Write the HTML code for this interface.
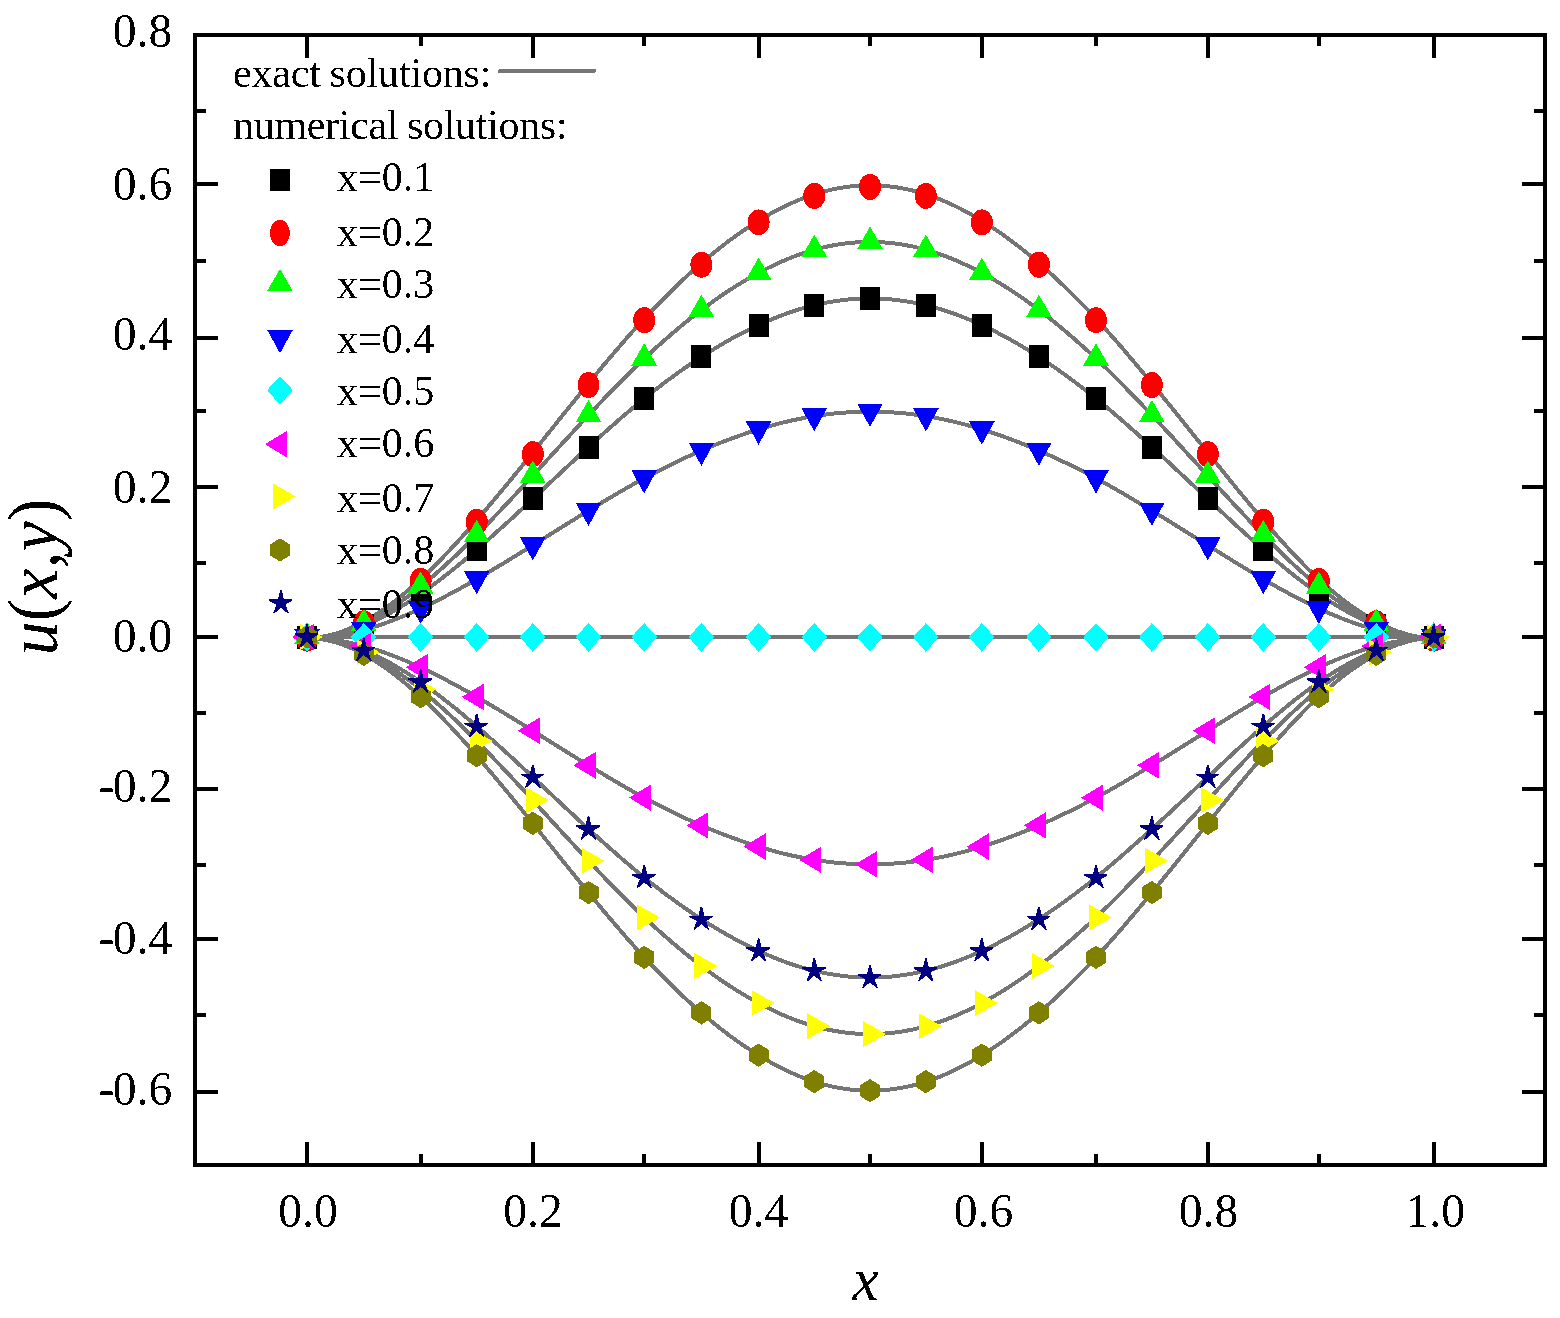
<!DOCTYPE html>
<html lang="en"><head><meta charset="utf-8"><title>u(x,y) exact vs numerical solutions</title>
<style>
html,body{margin:0;padding:0;background:#fff;}
body{width:1560px;height:1318px;overflow:hidden;}
svg{display:block;}
text{font-family:"Liberation Serif",serif;fill:#000;}
.tk{font-size:47.6px;}
.lg{font-size:42px;}
.ll{letter-spacing:-0.3px;word-spacing:-1.5px;}
.it{font-style:italic;}
</style></head><body>
<svg width="1560" height="1318" viewBox="0 0 1560 1318">
<defs><filter id="th" x="-5%" y="-5%" width="110%" height="110%" color-interpolation-filters="sRGB"><feComponentTransfer><feFuncA type="discrete" tableValues="0 0 1 1"/></feComponentTransfer></filter></defs>
<rect x="0" y="0" width="1560" height="1318" fill="#ffffff"/>
<g fill="none" stroke="#757575" stroke-width="4" stroke-linejoin="round" stroke-linecap="round" shape-rendering="crispEdges">
<polyline points="307.0,637.0 314.1,637.8 321.2,637.2 328.3,636.2 335.4,634.8 342.5,633.0 349.6,630.9 356.7,628.5 363.8,625.7 370.9,622.7 378.0,619.3 385.1,615.7 392.2,611.9 399.3,607.7 406.4,603.4 413.5,598.8 420.6,594.0 427.6,589.0 434.6,583.8 441.6,578.5 448.6,573.0 455.7,567.4 462.7,561.6 469.7,555.7 476.7,549.7 483.7,543.6 490.7,537.4 497.7,531.1 504.8,524.8 511.8,518.4 518.8,511.9 525.8,505.4 532.8,498.9 539.8,492.4 546.7,485.9 553.7,479.3 560.6,472.8 567.6,466.3 574.6,459.8 581.5,453.4 588.5,447.0 595.5,440.7 602.4,434.4 609.4,428.2 616.4,422.1 623.3,416.0 630.3,410.1 637.2,404.2 644.2,398.4 651.4,392.8 658.5,387.3 665.7,381.8 672.8,376.6 680.0,371.4 687.1,366.4 694.2,361.6 701.4,356.8 708.6,352.3 715.7,347.9 722.9,343.7 730.0,339.6 737.2,335.7 744.3,332.0 751.5,328.4 758.6,325.1 765.6,321.9 772.5,319.0 779.5,316.2 786.5,313.6 793.4,311.2 800.4,309.0 807.3,307.0 814.3,305.2 821.3,303.7 828.2,302.3 835.2,301.1 842.1,300.2 849.1,299.4 856.1,298.9 863.0,298.6 870.0,298.5 877.0,298.6 884.0,298.9 891.0,299.4 898.0,300.2 904.9,301.1 911.9,302.3 918.9,303.7 925.9,305.2 932.9,307.0 939.9,309.0 946.9,311.2 953.8,313.6 960.8,316.2 967.8,319.0 974.8,321.9 981.8,325.1 988.9,328.4 996.1,332.0 1003.2,335.7 1010.3,339.6 1017.5,343.7 1024.6,347.9 1031.8,352.3 1038.9,356.8 1046.0,361.6 1053.2,366.4 1060.3,371.4 1067.5,376.6 1074.6,381.8 1081.7,387.3 1088.9,392.8 1096.0,398.4 1103.0,404.2 1110.0,410.1 1117.0,416.0 1124.0,422.1 1130.9,428.2 1137.9,434.4 1144.9,440.7 1151.9,447.0 1158.9,453.4 1165.9,459.8 1172.9,466.3 1179.8,472.8 1186.8,479.3 1193.8,485.9 1200.8,492.4 1207.8,498.9 1214.7,505.4 1221.7,511.9 1228.6,518.4 1235.5,524.8 1242.5,531.1 1249.4,537.4 1256.4,543.6 1263.3,549.7 1270.2,555.7 1277.2,561.6 1284.1,567.4 1291.0,573.0 1298.0,578.5 1304.9,583.8 1311.9,589.0 1318.8,594.0 1326.0,598.8 1333.2,603.4 1340.3,607.7 1347.5,611.9 1354.7,615.7 1361.9,619.3 1369.1,622.7 1376.2,625.7 1383.4,628.5 1390.6,630.9 1397.8,633.0 1405.0,634.8 1412.2,636.2 1419.3,637.2 1426.5,637.8 1433.7,637.0"/>
<polyline points="307.0,637.0 314.1,637.7 321.2,636.9 328.3,635.5 335.4,633.7 342.5,631.4 349.6,628.6 356.7,625.3 363.8,621.7 370.9,617.6 378.0,613.1 385.1,608.3 392.2,603.1 399.3,597.6 406.4,591.8 413.5,585.7 420.6,579.3 427.6,572.7 434.6,565.8 441.6,558.7 448.6,551.4 455.7,543.8 462.7,536.1 469.7,528.3 476.7,520.3 483.7,512.1 490.7,503.8 497.7,495.5 504.8,487.0 511.8,478.5 518.8,469.9 525.8,461.3 532.8,452.6 539.8,443.9 546.7,435.2 553.7,426.5 560.6,417.8 567.6,409.1 574.6,400.5 581.5,391.9 588.5,383.4 595.5,374.9 602.4,366.5 609.4,358.3 616.4,350.1 623.3,342.0 630.3,334.1 637.2,326.3 644.2,318.6 651.4,311.0 658.5,303.7 665.7,296.5 672.8,289.4 680.0,282.6 687.1,275.9 694.2,269.4 701.4,263.1 708.6,257.0 715.7,251.2 722.9,245.5 730.0,240.1 737.2,234.9 744.3,230.0 751.5,225.3 758.6,220.8 765.6,216.6 772.5,212.6 779.5,208.9 786.5,205.4 793.4,202.3 800.4,199.3 807.3,196.7 814.3,194.3 821.3,192.2 828.2,190.4 835.2,188.8 842.1,187.6 849.1,186.6 856.1,185.9 863.0,185.4 870.0,185.3 877.0,185.4 884.0,185.9 891.0,186.6 898.0,187.6 904.9,188.8 911.9,190.4 918.9,192.2 925.9,194.3 932.9,196.7 939.9,199.3 946.9,202.3 953.8,205.4 960.8,208.9 967.8,212.6 974.8,216.6 981.8,220.8 988.9,225.3 996.1,230.0 1003.2,234.9 1010.3,240.1 1017.5,245.5 1024.6,251.2 1031.8,257.0 1038.9,263.1 1046.0,269.4 1053.2,275.9 1060.3,282.6 1067.5,289.4 1074.6,296.5 1081.7,303.7 1088.9,311.0 1096.0,318.6 1103.0,326.3 1110.0,334.1 1117.0,342.0 1124.0,350.1 1130.9,358.3 1137.9,366.5 1144.9,374.9 1151.9,383.4 1158.9,391.9 1165.9,400.5 1172.9,409.1 1179.8,417.8 1186.8,426.5 1193.8,435.2 1200.8,443.9 1207.8,452.6 1214.7,461.3 1221.7,469.9 1228.6,478.5 1235.5,487.0 1242.5,495.5 1249.4,503.8 1256.4,512.1 1263.3,520.3 1270.2,528.3 1277.2,536.1 1284.1,543.8 1291.0,551.4 1298.0,558.7 1304.9,565.8 1311.9,572.7 1318.8,579.3 1326.0,585.7 1333.2,591.8 1340.3,597.6 1347.5,603.1 1354.7,608.3 1361.9,613.1 1369.1,617.6 1376.2,621.7 1383.4,625.3 1390.6,628.6 1397.8,631.4 1405.0,633.7 1412.2,635.5 1419.3,636.9 1426.5,637.7 1433.7,637.0"/>
<polyline points="307.0,637.0 314.1,637.8 321.2,637.0 328.3,635.9 335.4,634.2 342.5,632.2 349.6,629.7 356.7,626.9 363.8,623.7 370.9,620.1 378.0,616.2 385.1,612.0 392.2,607.5 399.3,602.7 406.4,597.6 413.5,592.3 420.6,586.7 427.6,580.8 434.6,574.8 441.6,568.6 448.6,562.2 455.7,555.6 462.7,548.9 469.7,542.0 476.7,535.0 483.7,527.8 490.7,520.6 497.7,513.3 504.8,505.9 511.8,498.4 518.8,490.9 525.8,483.3 532.8,475.8 539.8,468.1 546.7,460.5 553.7,452.9 560.6,445.3 567.6,437.7 574.6,430.2 581.5,422.6 588.5,415.2 595.5,407.8 602.4,400.5 609.4,393.2 616.4,386.1 623.3,379.0 630.3,372.1 637.2,365.2 644.2,358.5 651.4,351.9 658.5,345.5 665.7,339.2 672.8,333.0 680.0,327.0 687.1,321.1 694.2,315.5 701.4,310.0 708.6,304.7 715.7,299.5 722.9,294.6 730.0,289.9 737.2,285.3 744.3,281.0 751.5,276.9 758.6,272.9 765.6,269.2 772.5,265.8 779.5,262.5 786.5,259.5 793.4,256.7 800.4,254.2 807.3,251.9 814.3,249.8 821.3,247.9 828.2,246.3 835.2,245.0 842.1,243.9 849.1,243.0 856.1,242.4 863.0,242.0 870.0,241.9 877.0,242.0 884.0,242.4 891.0,243.0 898.0,243.9 904.9,245.0 911.9,246.3 918.9,247.9 925.9,249.8 932.9,251.9 939.9,254.2 946.9,256.7 953.8,259.5 960.8,262.5 967.8,265.8 974.8,269.2 981.8,272.9 988.9,276.9 996.1,281.0 1003.2,285.3 1010.3,289.9 1017.5,294.6 1024.6,299.5 1031.8,304.7 1038.9,310.0 1046.0,315.5 1053.2,321.1 1060.3,327.0 1067.5,333.0 1074.6,339.2 1081.7,345.5 1088.9,351.9 1096.0,358.5 1103.0,365.2 1110.0,372.1 1117.0,379.0 1124.0,386.1 1130.9,393.2 1137.9,400.5 1144.9,407.8 1151.9,415.2 1158.9,422.6 1165.9,430.2 1172.9,437.7 1179.8,445.3 1186.8,452.9 1193.8,460.5 1200.8,468.1 1207.8,475.8 1214.7,483.3 1221.7,490.9 1228.6,498.4 1235.5,505.9 1242.5,513.3 1249.4,520.6 1256.4,527.8 1263.3,535.0 1270.2,542.0 1277.2,548.9 1284.1,555.6 1291.0,562.2 1298.0,568.6 1304.9,574.8 1311.9,580.8 1318.8,586.7 1326.0,592.3 1333.2,597.6 1340.3,602.7 1347.5,607.5 1354.7,612.0 1361.9,616.2 1369.1,620.1 1376.2,623.7 1383.4,626.9 1390.6,629.7 1397.8,632.2 1405.0,634.2 1412.2,635.9 1419.3,637.0 1426.5,637.8 1433.7,637.0"/>
<polyline points="307.0,637.0 314.1,637.9 321.2,637.4 328.3,636.8 335.4,635.8 342.5,634.7 349.6,633.3 356.7,631.7 363.8,629.8 370.9,627.8 378.0,625.6 385.1,623.2 392.2,620.6 399.3,617.8 406.4,614.9 413.5,611.9 420.6,608.7 427.6,605.3 434.6,601.9 441.6,598.3 448.6,594.7 455.7,590.9 462.7,587.1 469.7,583.1 476.7,579.1 483.7,575.1 490.7,570.9 497.7,566.7 504.8,562.5 511.8,558.2 518.8,553.9 525.8,549.6 532.8,545.3 539.8,540.9 546.7,536.6 553.7,532.2 560.6,527.9 567.6,523.5 574.6,519.2 581.5,514.9 588.5,510.7 595.5,506.5 602.4,502.3 609.4,498.1 616.4,494.0 623.3,490.0 630.3,486.0 637.2,482.1 644.2,478.3 651.4,474.5 658.5,470.8 665.7,467.2 672.8,463.7 680.0,460.3 687.1,456.9 694.2,453.7 701.4,450.6 708.6,447.5 715.7,444.6 722.9,441.8 730.0,439.1 737.2,436.5 744.3,434.0 751.5,431.6 758.6,429.4 765.6,427.3 772.5,425.3 779.5,423.4 786.5,421.7 793.4,420.1 800.4,418.7 807.3,417.3 814.3,416.2 821.3,415.1 828.2,414.2 835.2,413.4 842.1,412.8 849.1,412.3 856.1,411.9 863.0,411.7 870.0,411.7 877.0,411.7 884.0,411.9 891.0,412.3 898.0,412.8 904.9,413.4 911.9,414.2 918.9,415.1 925.9,416.2 932.9,417.3 939.9,418.7 946.9,420.1 953.8,421.7 960.8,423.4 967.8,425.3 974.8,427.3 981.8,429.4 988.9,431.6 996.1,434.0 1003.2,436.5 1010.3,439.1 1017.5,441.8 1024.6,444.6 1031.8,447.5 1038.9,450.6 1046.0,453.7 1053.2,456.9 1060.3,460.3 1067.5,463.7 1074.6,467.2 1081.7,470.8 1088.9,474.5 1096.0,478.3 1103.0,482.1 1110.0,486.0 1117.0,490.0 1124.0,494.0 1130.9,498.1 1137.9,502.3 1144.9,506.5 1151.9,510.7 1158.9,514.9 1165.9,519.2 1172.9,523.5 1179.8,527.9 1186.8,532.2 1193.8,536.6 1200.8,540.9 1207.8,545.3 1214.7,549.6 1221.7,553.9 1228.6,558.2 1235.5,562.5 1242.5,566.7 1249.4,570.9 1256.4,575.1 1263.3,579.1 1270.2,583.1 1277.2,587.1 1284.1,590.9 1291.0,594.7 1298.0,598.3 1304.9,601.9 1311.9,605.3 1318.8,608.7 1326.0,611.9 1333.2,614.9 1340.3,617.8 1347.5,620.6 1354.7,623.2 1361.9,625.6 1369.1,627.8 1376.2,629.8 1383.4,631.7 1390.6,633.3 1397.8,634.7 1405.0,635.8 1412.2,636.8 1419.3,637.4 1426.5,637.9 1433.7,637.0"/>
<polyline points="307.0,637.0 314.1,637.0 321.2,637.0 328.3,637.0 335.4,637.0 342.5,637.0 349.6,637.0 356.7,637.0 363.8,637.0 370.9,637.0 378.0,637.0 385.1,637.0 392.2,637.0 399.3,637.0 406.4,637.0 413.5,637.0 420.6,637.0 427.6,637.0 434.6,637.0 441.6,637.0 448.6,637.0 455.7,637.0 462.7,637.0 469.7,637.0 476.7,637.0 483.7,637.0 490.7,637.0 497.7,637.0 504.8,637.0 511.8,637.0 518.8,637.0 525.8,637.0 532.8,637.0 539.8,637.0 546.7,637.0 553.7,637.0 560.6,637.0 567.6,637.0 574.6,637.0 581.5,637.0 588.5,637.0 595.5,637.0 602.4,637.0 609.4,637.0 616.4,637.0 623.3,637.0 630.3,637.0 637.2,637.0 644.2,637.0 651.4,637.0 658.5,637.0 665.7,637.0 672.8,637.0 680.0,637.0 687.1,637.0 694.2,637.0 701.4,637.0 708.6,637.0 715.7,637.0 722.9,637.0 730.0,637.0 737.2,637.0 744.3,637.0 751.5,637.0 758.6,637.0 765.6,637.0 772.5,637.0 779.5,637.0 786.5,637.0 793.4,637.0 800.4,637.0 807.3,637.0 814.3,637.0 821.3,637.0 828.2,637.0 835.2,637.0 842.1,637.0 849.1,637.0 856.1,637.0 863.0,637.0 870.0,637.0 877.0,637.0 884.0,637.0 891.0,637.0 898.0,637.0 904.9,637.0 911.9,637.0 918.9,637.0 925.9,637.0 932.9,637.0 939.9,637.0 946.9,637.0 953.8,637.0 960.8,637.0 967.8,637.0 974.8,637.0 981.8,637.0 988.9,637.0 996.1,637.0 1003.2,637.0 1010.3,637.0 1017.5,637.0 1024.6,637.0 1031.8,637.0 1038.9,637.0 1046.0,637.0 1053.2,637.0 1060.3,637.0 1067.5,637.0 1074.6,637.0 1081.7,637.0 1088.9,637.0 1096.0,637.0 1103.0,637.0 1110.0,637.0 1117.0,637.0 1124.0,637.0 1130.9,637.0 1137.9,637.0 1144.9,637.0 1151.9,637.0 1158.9,637.0 1165.9,637.0 1172.9,637.0 1179.8,637.0 1186.8,637.0 1193.8,637.0 1200.8,637.0 1207.8,637.0 1214.7,637.0 1221.7,637.0 1228.6,637.0 1235.5,637.0 1242.5,637.0 1249.4,637.0 1256.4,637.0 1263.3,637.0 1270.2,637.0 1277.2,637.0 1284.1,637.0 1291.0,637.0 1298.0,637.0 1304.9,637.0 1311.9,637.0 1318.8,637.0 1326.0,637.0 1333.2,637.0 1340.3,637.0 1347.5,637.0 1354.7,637.0 1361.9,637.0 1369.1,637.0 1376.2,637.0 1383.4,637.0 1390.6,637.0 1397.8,637.0 1405.0,637.0 1412.2,637.0 1419.3,637.0 1426.5,637.0 1433.7,637.0"/>
<polyline points="307.0,637.0 314.1,638.1 321.2,638.6 328.3,639.2 335.4,640.2 342.5,641.3 349.6,642.7 356.7,644.3 363.8,646.2 370.9,648.2 378.0,650.4 385.1,652.8 392.2,655.4 399.3,658.2 406.4,661.1 413.5,664.1 420.6,667.3 427.6,670.7 434.6,674.1 441.6,677.7 448.6,681.3 455.7,685.1 462.7,688.9 469.7,692.9 476.7,696.9 483.7,700.9 490.7,705.1 497.7,709.3 504.8,713.5 511.8,717.8 518.8,722.1 525.8,726.4 532.8,730.7 539.8,735.1 546.7,739.4 553.7,743.8 560.6,748.1 567.6,752.5 574.6,756.8 581.5,761.1 588.5,765.3 595.5,769.5 602.4,773.7 609.4,777.9 616.4,782.0 623.3,786.0 630.3,790.0 637.2,793.9 644.2,797.7 651.4,801.5 658.5,805.2 665.7,808.8 672.8,812.3 680.0,815.7 687.1,819.1 694.2,822.3 701.4,825.4 708.6,828.5 715.7,831.4 722.9,834.2 730.0,836.9 737.2,839.5 744.3,842.0 751.5,844.4 758.6,846.6 765.6,848.7 772.5,850.7 779.5,852.6 786.5,854.3 793.4,855.9 800.4,857.3 807.3,858.7 814.3,859.8 821.3,860.9 828.2,861.8 835.2,862.6 842.1,863.2 849.1,863.7 856.1,864.1 863.0,864.3 870.0,864.4 877.0,864.3 884.0,864.1 891.0,863.7 898.0,863.2 904.9,862.6 911.9,861.8 918.9,860.9 925.9,859.8 932.9,858.7 939.9,857.3 946.9,855.9 953.8,854.3 960.8,852.6 967.8,850.7 974.8,848.7 981.8,846.6 988.9,844.4 996.1,842.0 1003.2,839.5 1010.3,836.9 1017.5,834.2 1024.6,831.4 1031.8,828.5 1038.9,825.4 1046.0,822.3 1053.2,819.1 1060.3,815.7 1067.5,812.3 1074.6,808.8 1081.7,805.2 1088.9,801.5 1096.0,797.7 1103.0,793.9 1110.0,790.0 1117.0,786.0 1124.0,782.0 1130.9,777.9 1137.9,773.7 1144.9,769.5 1151.9,765.3 1158.9,761.1 1165.9,756.8 1172.9,752.5 1179.8,748.1 1186.8,743.8 1193.8,739.4 1200.8,735.1 1207.8,730.7 1214.7,726.4 1221.7,722.1 1228.6,717.8 1235.5,713.5 1242.5,709.3 1249.4,705.1 1256.4,700.9 1263.3,696.9 1270.2,692.9 1277.2,688.9 1284.1,685.1 1291.0,681.3 1298.0,677.7 1304.9,674.1 1311.9,670.7 1318.8,667.3 1326.0,664.1 1333.2,661.1 1340.3,658.2 1347.5,655.4 1354.7,652.8 1361.9,650.4 1369.1,648.2 1376.2,646.2 1383.4,644.3 1390.6,642.7 1397.8,641.3 1405.0,640.2 1412.2,639.2 1419.3,638.6 1426.5,638.1 1433.7,637.0"/>
<polyline points="307.0,637.0 314.1,638.2 321.2,639.0 328.3,640.1 335.4,641.8 342.5,643.8 349.6,646.3 356.7,649.1 363.8,652.3 370.9,655.9 378.0,659.8 385.1,664.0 392.2,668.5 399.3,673.3 406.4,678.4 413.5,683.7 420.6,689.3 427.6,695.2 434.6,701.2 441.6,707.4 448.6,713.8 455.7,720.4 462.7,727.1 469.7,734.0 476.7,741.0 483.7,748.2 490.7,755.4 497.7,762.7 504.8,770.1 511.8,777.6 518.8,785.1 525.8,792.7 532.8,800.2 539.8,807.9 546.7,815.5 553.7,823.1 560.6,830.7 567.6,838.3 574.6,845.8 581.5,853.4 588.5,860.8 595.5,868.2 602.4,875.5 609.4,882.8 616.4,889.9 623.3,897.0 630.3,903.9 637.2,910.8 644.2,917.5 651.4,924.1 658.5,930.5 665.7,936.8 672.8,943.0 680.0,949.0 687.1,954.9 694.2,960.5 701.4,966.0 708.6,971.3 715.7,976.5 722.9,981.4 730.0,986.1 737.2,990.7 744.3,995.0 751.5,999.1 758.6,1003.1 765.6,1006.8 772.5,1010.2 779.5,1013.5 786.5,1016.5 793.4,1019.3 800.4,1021.8 807.3,1024.1 814.3,1026.2 821.3,1028.1 828.2,1029.7 835.2,1031.0 842.1,1032.1 849.1,1033.0 856.1,1033.6 863.0,1034.0 870.0,1034.1 877.0,1034.0 884.0,1033.6 891.0,1033.0 898.0,1032.1 904.9,1031.0 911.9,1029.7 918.9,1028.1 925.9,1026.2 932.9,1024.1 939.9,1021.8 946.9,1019.3 953.8,1016.5 960.8,1013.5 967.8,1010.2 974.8,1006.8 981.8,1003.1 988.9,999.1 996.1,995.0 1003.2,990.7 1010.3,986.1 1017.5,981.4 1024.6,976.5 1031.8,971.3 1038.9,966.0 1046.0,960.5 1053.2,954.9 1060.3,949.0 1067.5,943.0 1074.6,936.8 1081.7,930.5 1088.9,924.1 1096.0,917.5 1103.0,910.8 1110.0,903.9 1117.0,897.0 1124.0,889.9 1130.9,882.8 1137.9,875.5 1144.9,868.2 1151.9,860.8 1158.9,853.4 1165.9,845.8 1172.9,838.3 1179.8,830.7 1186.8,823.1 1193.8,815.5 1200.8,807.9 1207.8,800.2 1214.7,792.7 1221.7,785.1 1228.6,777.6 1235.5,770.1 1242.5,762.7 1249.4,755.4 1256.4,748.2 1263.3,741.0 1270.2,734.0 1277.2,727.1 1284.1,720.4 1291.0,713.8 1298.0,707.4 1304.9,701.2 1311.9,695.2 1318.8,689.3 1326.0,683.7 1333.2,678.4 1340.3,673.3 1347.5,668.5 1354.7,664.0 1361.9,659.8 1369.1,655.9 1376.2,652.3 1383.4,649.1 1390.6,646.3 1397.8,643.8 1405.0,641.8 1412.2,640.1 1419.3,639.0 1426.5,638.2 1433.7,637.0"/>
<polyline points="307.0,637.0 314.1,638.3 321.2,639.1 328.3,640.5 335.4,642.3 342.5,644.6 349.6,647.4 356.7,650.7 363.8,654.3 370.9,658.4 378.0,662.9 385.1,667.7 392.2,672.9 399.3,678.4 406.4,684.2 413.5,690.3 420.6,696.7 427.6,703.3 434.6,710.2 441.6,717.3 448.6,724.6 455.7,732.2 462.7,739.9 469.7,747.7 476.7,755.7 483.7,763.9 490.7,772.2 497.7,780.5 504.8,789.0 511.8,797.5 518.8,806.1 525.8,814.7 532.8,823.4 539.8,832.1 546.7,840.8 553.7,849.5 560.6,858.2 567.6,866.9 574.6,875.5 581.5,884.1 588.5,892.6 595.5,901.1 602.4,909.5 609.4,917.7 616.4,925.9 623.3,934.0 630.3,941.9 637.2,949.7 644.2,957.4 651.4,965.0 658.5,972.3 665.7,979.5 672.8,986.6 680.0,993.4 687.1,1000.1 694.2,1006.6 701.4,1012.9 708.6,1019.0 715.7,1024.8 722.9,1030.5 730.0,1035.9 737.2,1041.1 744.3,1046.0 751.5,1050.7 758.6,1055.2 765.6,1059.4 772.5,1063.4 779.5,1067.1 786.5,1070.6 793.4,1073.7 800.4,1076.7 807.3,1079.3 814.3,1081.7 821.3,1083.8 828.2,1085.6 835.2,1087.2 842.1,1088.4 849.1,1089.4 856.1,1090.1 863.0,1090.6 870.0,1090.7 877.0,1090.6 884.0,1090.1 891.0,1089.4 898.0,1088.4 904.9,1087.2 911.9,1085.6 918.9,1083.8 925.9,1081.7 932.9,1079.3 939.9,1076.7 946.9,1073.7 953.8,1070.6 960.8,1067.1 967.8,1063.4 974.8,1059.4 981.8,1055.2 988.9,1050.7 996.1,1046.0 1003.2,1041.1 1010.3,1035.9 1017.5,1030.5 1024.6,1024.8 1031.8,1019.0 1038.9,1012.9 1046.0,1006.6 1053.2,1000.1 1060.3,993.4 1067.5,986.6 1074.6,979.5 1081.7,972.3 1088.9,965.0 1096.0,957.4 1103.0,949.7 1110.0,941.9 1117.0,934.0 1124.0,925.9 1130.9,917.7 1137.9,909.5 1144.9,901.1 1151.9,892.6 1158.9,884.1 1165.9,875.5 1172.9,866.9 1179.8,858.2 1186.8,849.5 1193.8,840.8 1200.8,832.1 1207.8,823.4 1214.7,814.7 1221.7,806.1 1228.6,797.5 1235.5,789.0 1242.5,780.5 1249.4,772.2 1256.4,763.9 1263.3,755.7 1270.2,747.7 1277.2,739.9 1284.1,732.2 1291.0,724.6 1298.0,717.3 1304.9,710.2 1311.9,703.3 1318.8,696.7 1326.0,690.3 1333.2,684.2 1340.3,678.4 1347.5,672.9 1354.7,667.7 1361.9,662.9 1369.1,658.4 1376.2,654.3 1383.4,650.7 1390.6,647.4 1397.8,644.6 1405.0,642.3 1412.2,640.5 1419.3,639.1 1426.5,638.3 1433.7,637.0"/>
<polyline points="307.0,637.0 314.1,638.2 321.2,638.8 328.3,639.8 335.4,641.2 342.5,643.0 349.6,645.1 356.7,647.5 363.8,650.3 370.9,653.3 378.0,656.7 385.1,660.3 392.2,664.1 399.3,668.3 406.4,672.6 413.5,677.2 420.6,682.0 427.6,687.0 434.6,692.2 441.6,697.5 448.6,703.0 455.7,708.6 462.7,714.4 469.7,720.3 476.7,726.3 483.7,732.4 490.7,738.6 497.7,744.9 504.8,751.2 511.8,757.6 518.8,764.1 525.8,770.6 532.8,777.1 539.8,783.6 546.7,790.1 553.7,796.7 560.6,803.2 567.6,809.7 574.6,816.2 581.5,822.6 588.5,829.0 595.5,835.3 602.4,841.6 609.4,847.8 616.4,853.9 623.3,860.0 630.3,865.9 637.2,871.8 644.2,877.6 651.4,883.2 658.5,888.7 665.7,894.2 672.8,899.4 680.0,904.6 687.1,909.6 694.2,914.4 701.4,919.2 708.6,923.7 715.7,928.1 722.9,932.3 730.0,936.4 737.2,940.3 744.3,944.0 751.5,947.6 758.6,950.9 765.6,954.1 772.5,957.0 779.5,959.8 786.5,962.4 793.4,964.8 800.4,967.0 807.3,969.0 814.3,970.8 821.3,972.3 828.2,973.7 835.2,974.9 842.1,975.8 849.1,976.6 856.1,977.1 863.0,977.4 870.0,977.5 877.0,977.4 884.0,977.1 891.0,976.6 898.0,975.8 904.9,974.9 911.9,973.7 918.9,972.3 925.9,970.8 932.9,969.0 939.9,967.0 946.9,964.8 953.8,962.4 960.8,959.8 967.8,957.0 974.8,954.1 981.8,950.9 988.9,947.6 996.1,944.0 1003.2,940.3 1010.3,936.4 1017.5,932.3 1024.6,928.1 1031.8,923.7 1038.9,919.2 1046.0,914.4 1053.2,909.6 1060.3,904.6 1067.5,899.4 1074.6,894.2 1081.7,888.7 1088.9,883.2 1096.0,877.6 1103.0,871.8 1110.0,865.9 1117.0,860.0 1124.0,853.9 1130.9,847.8 1137.9,841.6 1144.9,835.3 1151.9,829.0 1158.9,822.6 1165.9,816.2 1172.9,809.7 1179.8,803.2 1186.8,796.7 1193.8,790.1 1200.8,783.6 1207.8,777.1 1214.7,770.6 1221.7,764.1 1228.6,757.6 1235.5,751.2 1242.5,744.9 1249.4,738.6 1256.4,732.4 1263.3,726.3 1270.2,720.3 1277.2,714.4 1284.1,708.6 1291.0,703.0 1298.0,697.5 1304.9,692.2 1311.9,687.0 1318.8,682.0 1326.0,677.2 1333.2,672.6 1340.3,668.3 1347.5,664.1 1354.7,660.3 1361.9,656.7 1369.1,653.3 1376.2,650.3 1383.4,647.5 1390.6,645.1 1397.8,643.0 1405.0,641.2 1412.2,639.8 1419.3,638.8 1426.5,638.2 1433.7,637.0"/>
</g>
<g shape-rendering="crispEdges" stroke="none">
<g fill="#000000">
<rect x="297.0" y="625.5" width="20" height="23"/>
<rect x="353.8" y="614.2" width="20" height="23"/>
<rect x="410.6" y="582.5" width="20" height="23"/>
<rect x="466.7" y="538.2" width="20" height="23"/>
<rect x="522.8" y="487.4" width="20" height="23"/>
<rect x="578.5" y="435.5" width="20" height="23"/>
<rect x="634.2" y="386.9" width="20" height="23"/>
<rect x="691.4" y="345.3" width="20" height="23"/>
<rect x="748.6" y="313.6" width="20" height="23"/>
<rect x="804.3" y="293.7" width="20" height="23"/>
<rect x="860.0" y="287.0" width="20" height="23"/>
<rect x="915.9" y="293.7" width="20" height="23"/>
<rect x="971.8" y="313.6" width="20" height="23"/>
<rect x="1028.9" y="345.3" width="20" height="23"/>
<rect x="1086.0" y="386.9" width="20" height="23"/>
<rect x="1141.9" y="435.5" width="20" height="23"/>
<rect x="1197.8" y="487.4" width="20" height="23"/>
<rect x="1253.3" y="538.2" width="20" height="23"/>
<rect x="1308.8" y="582.5" width="20" height="23"/>
<rect x="1366.2" y="614.2" width="20" height="23"/>
<rect x="1423.7" y="625.5" width="20" height="23"/>
</g>
<g fill="#ff0000">
<ellipse cx="307.0" cy="638.6" rx="11" ry="13"/>
<ellipse cx="363.8" cy="623.3" rx="11" ry="13"/>
<ellipse cx="420.6" cy="580.9" rx="11" ry="13"/>
<ellipse cx="476.7" cy="521.9" rx="11" ry="13"/>
<ellipse cx="532.8" cy="454.2" rx="11" ry="13"/>
<ellipse cx="588.5" cy="385.0" rx="11" ry="13"/>
<ellipse cx="644.2" cy="320.2" rx="11" ry="13"/>
<ellipse cx="701.4" cy="264.7" rx="11" ry="13"/>
<ellipse cx="758.6" cy="222.4" rx="11" ry="13"/>
<ellipse cx="814.3" cy="195.9" rx="11" ry="13"/>
<ellipse cx="870.0" cy="186.9" rx="11" ry="13"/>
<ellipse cx="925.9" cy="195.9" rx="11" ry="13"/>
<ellipse cx="981.8" cy="222.4" rx="11" ry="13"/>
<ellipse cx="1038.9" cy="264.7" rx="11" ry="13"/>
<ellipse cx="1096.0" cy="320.2" rx="11" ry="13"/>
<ellipse cx="1151.9" cy="385.0" rx="11" ry="13"/>
<ellipse cx="1207.8" cy="454.2" rx="11" ry="13"/>
<ellipse cx="1263.3" cy="521.9" rx="11" ry="13"/>
<ellipse cx="1318.8" cy="580.9" rx="11" ry="13"/>
<ellipse cx="1376.2" cy="623.3" rx="11" ry="13"/>
<ellipse cx="1433.7" cy="638.6" rx="11" ry="13"/>
</g>
<g fill="#00ff00">
<polygon points="307.0,621.7 319.8,644.0 294.2,644.0"/>
<polygon points="363.8,608.4 376.6,630.7 351.0,630.7"/>
<polygon points="420.6,571.4 433.4,593.7 407.8,593.7"/>
<polygon points="476.7,519.7 489.5,542.0 463.9,542.0"/>
<polygon points="532.8,460.5 545.6,482.8 520.0,482.8"/>
<polygon points="588.5,399.9 601.3,422.2 575.7,422.2"/>
<polygon points="644.2,343.2 657.0,365.5 631.4,365.5"/>
<polygon points="701.4,294.7 714.2,317.0 688.6,317.0"/>
<polygon points="758.6,257.6 771.4,279.9 745.8,279.9"/>
<polygon points="814.3,234.5 827.1,256.8 801.5,256.8"/>
<polygon points="870.0,226.6 882.8,248.9 857.2,248.9"/>
<polygon points="925.9,234.5 938.7,256.8 913.1,256.8"/>
<polygon points="981.8,257.6 994.6,279.9 969.0,279.9"/>
<polygon points="1038.9,294.7 1051.7,317.0 1026.1,317.0"/>
<polygon points="1096.0,343.2 1108.8,365.5 1083.2,365.5"/>
<polygon points="1151.9,399.9 1164.7,422.2 1139.1,422.2"/>
<polygon points="1207.8,460.5 1220.6,482.8 1195.0,482.8"/>
<polygon points="1263.3,519.7 1276.1,542.0 1250.5,542.0"/>
<polygon points="1318.8,571.4 1331.6,593.7 1306.0,593.7"/>
<polygon points="1376.2,608.4 1389.0,630.7 1363.5,630.7"/>
<polygon points="1433.7,621.7 1446.5,644.0 1420.9,644.0"/>
</g>
<g fill="#0000ff">
<polygon points="294.2,629.0 319.8,629.0 307.0,652.3"/>
<polygon points="351.0,621.8 376.6,621.8 363.8,645.1"/>
<polygon points="407.8,600.7 433.4,600.7 420.6,624.0"/>
<polygon points="463.9,571.1 489.5,571.1 476.7,594.4"/>
<polygon points="520.0,537.3 545.6,537.3 532.8,560.6"/>
<polygon points="575.7,502.7 601.3,502.7 588.5,526.0"/>
<polygon points="631.4,470.3 657.0,470.3 644.2,493.6"/>
<polygon points="688.6,442.6 714.2,442.6 701.4,465.9"/>
<polygon points="745.8,421.4 771.4,421.4 758.6,444.7"/>
<polygon points="801.5,408.2 827.1,408.2 814.3,431.5"/>
<polygon points="857.2,403.7 882.8,403.7 870.0,427.0"/>
<polygon points="913.1,408.2 938.7,408.2 925.9,431.5"/>
<polygon points="969.0,421.4 994.6,421.4 981.8,444.7"/>
<polygon points="1026.1,442.6 1051.7,442.6 1038.9,465.9"/>
<polygon points="1083.2,470.3 1108.8,470.3 1096.0,493.6"/>
<polygon points="1139.1,502.7 1164.7,502.7 1151.9,526.0"/>
<polygon points="1195.0,537.3 1220.6,537.3 1207.8,560.6"/>
<polygon points="1250.5,571.1 1276.1,571.1 1263.3,594.4"/>
<polygon points="1306.0,600.7 1331.6,600.7 1318.8,624.0"/>
<polygon points="1363.5,621.8 1389.0,621.8 1376.2,645.1"/>
<polygon points="1420.9,629.0 1446.5,629.0 1433.7,652.3"/>
</g>
<g fill="#00ffff">
<polygon points="307.0,623.0 319.8,637.0 307.0,652.0 294.2,637.0"/>
<polygon points="363.8,623.0 376.6,637.0 363.8,652.0 351.0,637.0"/>
<polygon points="420.6,623.0 433.4,637.0 420.6,652.0 407.8,637.0"/>
<polygon points="476.7,623.0 489.5,637.0 476.7,652.0 463.9,637.0"/>
<polygon points="532.8,623.0 545.6,637.0 532.8,652.0 520.0,637.0"/>
<polygon points="588.5,623.0 601.3,637.0 588.5,652.0 575.7,637.0"/>
<polygon points="644.2,623.0 657.0,637.0 644.2,652.0 631.4,637.0"/>
<polygon points="701.4,623.0 714.2,637.0 701.4,652.0 688.6,637.0"/>
<polygon points="758.6,623.0 771.4,637.0 758.6,652.0 745.8,637.0"/>
<polygon points="814.3,623.0 827.1,637.0 814.3,652.0 801.5,637.0"/>
<polygon points="870.0,623.0 882.8,637.0 870.0,652.0 857.2,637.0"/>
<polygon points="925.9,623.0 938.7,637.0 925.9,652.0 913.1,637.0"/>
<polygon points="981.8,623.0 994.6,637.0 981.8,652.0 969.0,637.0"/>
<polygon points="1038.9,623.0 1051.7,637.0 1038.9,652.0 1026.1,637.0"/>
<polygon points="1096.0,623.0 1108.8,637.0 1096.0,652.0 1083.2,637.0"/>
<polygon points="1151.9,623.0 1164.7,637.0 1151.9,652.0 1139.1,637.0"/>
<polygon points="1207.8,623.0 1220.6,637.0 1207.8,652.0 1195.0,637.0"/>
<polygon points="1263.3,623.0 1276.1,637.0 1263.3,652.0 1250.5,637.0"/>
<polygon points="1318.8,623.0 1331.6,637.0 1318.8,652.0 1306.0,637.0"/>
<polygon points="1376.2,623.0 1389.0,637.0 1376.2,652.0 1363.5,637.0"/>
<polygon points="1433.7,623.0 1446.5,637.0 1433.7,652.0 1420.9,637.0"/>
</g>
<g fill="#ff00ff">
<polygon points="292.0,637.0 314.0,623.7 314.0,650.3"/>
<polygon points="348.8,646.2 370.8,632.9 370.8,659.5"/>
<polygon points="405.6,667.3 427.6,654.0 427.6,680.6"/>
<polygon points="461.7,696.9 483.7,683.6 483.7,710.2"/>
<polygon points="517.8,730.7 539.8,717.4 539.8,744.0"/>
<polygon points="573.5,765.3 595.5,752.0 595.5,778.6"/>
<polygon points="629.2,797.7 651.2,784.4 651.2,811.0"/>
<polygon points="686.4,825.4 708.4,812.1 708.4,838.7"/>
<polygon points="743.6,846.6 765.6,833.3 765.6,859.9"/>
<polygon points="799.3,859.8 821.3,846.5 821.3,873.1"/>
<polygon points="855.0,864.3 877.0,851.0 877.0,877.6"/>
<polygon points="910.9,859.8 932.9,846.5 932.9,873.1"/>
<polygon points="966.8,846.6 988.8,833.3 988.8,859.9"/>
<polygon points="1023.9,825.4 1045.9,812.1 1045.9,838.7"/>
<polygon points="1081.0,797.7 1103.0,784.4 1103.0,811.0"/>
<polygon points="1136.9,765.3 1158.9,752.0 1158.9,778.6"/>
<polygon points="1192.8,730.7 1214.8,717.4 1214.8,744.0"/>
<polygon points="1248.3,696.9 1270.3,683.6 1270.3,710.2"/>
<polygon points="1303.8,667.3 1325.8,654.0 1325.8,680.6"/>
<polygon points="1361.2,646.2 1383.2,632.9 1383.2,659.5"/>
<polygon points="1418.7,637.0 1440.7,623.7 1440.7,650.3"/>
</g>
<g fill="#ffff00">
<polygon points="323.0,637.0 300.0,624.0 300.0,650.0"/>
<polygon points="379.8,652.3 356.8,639.3 356.8,665.3"/>
<polygon points="436.6,689.3 413.6,676.3 413.6,702.3"/>
<polygon points="492.7,741.0 469.7,728.0 469.7,754.0"/>
<polygon points="548.8,800.2 525.8,787.2 525.8,813.2"/>
<polygon points="604.5,860.8 581.5,847.8 581.5,873.8"/>
<polygon points="660.2,917.5 637.2,904.5 637.2,930.5"/>
<polygon points="717.4,966.0 694.4,953.0 694.4,979.0"/>
<polygon points="774.6,1003.1 751.6,990.1 751.6,1016.1"/>
<polygon points="830.3,1026.2 807.3,1013.2 807.3,1039.2"/>
<polygon points="886.0,1034.1 863.0,1021.1 863.0,1047.1"/>
<polygon points="941.9,1026.2 918.9,1013.2 918.9,1039.2"/>
<polygon points="997.8,1003.1 974.8,990.1 974.8,1016.1"/>
<polygon points="1054.9,966.0 1031.9,953.0 1031.9,979.0"/>
<polygon points="1112.0,917.5 1089.0,904.5 1089.0,930.5"/>
<polygon points="1167.9,860.8 1144.9,847.8 1144.9,873.8"/>
<polygon points="1223.8,800.2 1200.8,787.2 1200.8,813.2"/>
<polygon points="1279.3,741.0 1256.3,728.0 1256.3,754.0"/>
<polygon points="1334.8,689.3 1311.8,676.3 1311.8,702.3"/>
<polygon points="1392.2,652.3 1369.2,639.3 1369.2,665.3"/>
<polygon points="1449.7,637.0 1426.7,624.0 1426.7,650.0"/>
</g>
<g fill="#808000">
<polygon points="307.0,625.3 317.0,631.5 317.0,642.3 307.0,648.7 297.0,642.3 297.0,631.5"/>
<polygon points="363.8,642.6 373.8,648.8 373.8,659.6 363.8,666.0 353.8,659.6 353.8,648.8"/>
<polygon points="420.6,685.0 430.6,691.2 430.6,702.0 420.6,708.4 410.6,702.0 410.6,691.2"/>
<polygon points="476.7,744.0 486.7,750.2 486.7,761.0 476.7,767.4 466.7,761.0 466.7,750.2"/>
<polygon points="532.8,811.7 542.8,817.9 542.8,828.7 532.8,835.1 522.8,828.7 522.8,817.9"/>
<polygon points="588.5,880.9 598.5,887.1 598.5,897.9 588.5,904.3 578.5,897.9 578.5,887.1"/>
<polygon points="644.2,945.7 654.2,951.9 654.2,962.7 644.2,969.1 634.2,962.7 634.2,951.9"/>
<polygon points="701.4,1001.2 711.4,1007.4 711.4,1018.2 701.4,1024.6 691.4,1018.2 691.4,1007.4"/>
<polygon points="758.6,1043.5 768.6,1049.7 768.6,1060.5 758.6,1066.9 748.6,1060.5 748.6,1049.7"/>
<polygon points="814.3,1070.0 824.3,1076.2 824.3,1087.0 814.3,1093.4 804.3,1087.0 804.3,1076.2"/>
<polygon points="870.0,1079.0 880.0,1085.2 880.0,1096.0 870.0,1102.4 860.0,1096.0 860.0,1085.2"/>
<polygon points="925.9,1070.0 935.9,1076.2 935.9,1087.0 925.9,1093.4 915.9,1087.0 915.9,1076.2"/>
<polygon points="981.8,1043.5 991.8,1049.7 991.8,1060.5 981.8,1066.9 971.8,1060.5 971.8,1049.7"/>
<polygon points="1038.9,1001.2 1048.9,1007.4 1048.9,1018.2 1038.9,1024.6 1028.9,1018.2 1028.9,1007.4"/>
<polygon points="1096.0,945.7 1106.0,951.9 1106.0,962.7 1096.0,969.1 1086.0,962.7 1086.0,951.9"/>
<polygon points="1151.9,880.9 1161.9,887.1 1161.9,897.9 1151.9,904.3 1141.9,897.9 1141.9,887.1"/>
<polygon points="1207.8,811.7 1217.8,817.9 1217.8,828.7 1207.8,835.1 1197.8,828.7 1197.8,817.9"/>
<polygon points="1263.3,744.0 1273.3,750.2 1273.3,761.0 1263.3,767.4 1253.3,761.0 1253.3,750.2"/>
<polygon points="1318.8,685.0 1328.8,691.2 1328.8,702.0 1318.8,708.4 1308.8,702.0 1308.8,691.2"/>
<polygon points="1376.2,642.6 1386.2,648.8 1386.2,659.6 1376.2,666.0 1366.2,659.6 1366.2,648.8"/>
<polygon points="1433.7,625.3 1443.7,631.5 1443.7,642.3 1433.7,648.7 1423.7,642.3 1423.7,631.5"/>
</g>
<g fill="#000080">
<polygon points="306.2,624.4 307.8,624.4 309.9,633.4 318.4,633.4 318.4,634.8 311.6,638.8 314.9,647.5 313.5,647.5 307.0,641.8 300.5,647.5 299.1,647.5 302.4,638.8 294.7,634.8 294.7,633.4 304.1,633.4"/>
<polygon points="363.0,637.7 364.6,637.7 366.7,646.7 375.2,646.7 375.2,648.1 368.4,652.1 371.7,660.8 370.3,660.8 363.8,655.1 357.3,660.8 355.9,660.8 359.2,652.1 351.5,648.1 351.5,646.7 360.9,646.7"/>
<polygon points="419.8,669.4 421.4,669.4 423.5,678.4 432.0,678.4 432.0,679.8 425.2,683.8 428.5,692.5 427.1,692.5 420.6,686.8 414.1,692.5 412.7,692.5 416.0,683.8 408.3,679.8 408.3,678.4 417.7,678.4"/>
<polygon points="475.9,713.7 477.5,713.7 479.6,722.7 488.1,722.7 488.1,724.1 481.3,728.1 484.6,736.8 483.2,736.8 476.7,731.1 470.2,736.8 468.8,736.8 472.1,728.1 464.4,724.1 464.4,722.7 473.8,722.7"/>
<polygon points="532.0,764.5 533.6,764.5 535.7,773.5 544.2,773.5 544.2,774.9 537.4,778.9 540.7,787.6 539.3,787.6 532.8,781.9 526.3,787.6 524.9,787.6 528.2,778.9 520.5,774.9 520.5,773.5 529.9,773.5"/>
<polygon points="587.7,816.4 589.3,816.4 591.4,825.4 599.9,825.4 599.9,826.8 593.1,830.8 596.4,839.5 595.0,839.5 588.5,833.8 582.0,839.5 580.6,839.5 583.9,830.8 576.2,826.8 576.2,825.4 585.6,825.4"/>
<polygon points="643.4,865.0 645.0,865.0 647.1,874.0 655.6,874.0 655.6,875.4 648.8,879.4 652.1,888.1 650.7,888.1 644.2,882.4 637.7,888.1 636.3,888.1 639.6,879.4 631.9,875.4 631.9,874.0 641.3,874.0"/>
<polygon points="700.6,906.6 702.2,906.6 704.3,915.6 712.8,915.6 712.8,917.0 706.0,921.0 709.3,929.7 707.9,929.7 701.4,924.0 694.9,929.7 693.5,929.7 696.8,921.0 689.1,917.0 689.1,915.6 698.5,915.6"/>
<polygon points="757.8,938.3 759.4,938.3 761.5,947.3 770.0,947.3 770.0,948.7 763.2,952.7 766.5,961.4 765.1,961.4 758.6,955.7 752.1,961.4 750.7,961.4 754.0,952.7 746.3,948.7 746.3,947.3 755.7,947.3"/>
<polygon points="813.5,958.2 815.1,958.2 817.2,967.2 825.7,967.2 825.7,968.6 818.9,972.6 822.2,981.3 820.8,981.3 814.3,975.6 807.8,981.3 806.4,981.3 809.7,972.6 802.0,968.6 802.0,967.2 811.4,967.2"/>
<polygon points="869.2,964.9 870.8,964.9 872.9,973.9 881.4,973.9 881.4,975.3 874.6,979.3 877.9,988.0 876.5,988.0 870.0,982.3 863.5,988.0 862.1,988.0 865.4,979.3 857.7,975.3 857.7,973.9 867.1,973.9"/>
<polygon points="925.1,958.2 926.7,958.2 928.8,967.2 937.3,967.2 937.3,968.6 930.5,972.6 933.8,981.3 932.4,981.3 925.9,975.6 919.4,981.3 918.0,981.3 921.3,972.6 913.6,968.6 913.6,967.2 923.0,967.2"/>
<polygon points="981.0,938.3 982.6,938.3 984.7,947.3 993.2,947.3 993.2,948.7 986.4,952.7 989.7,961.4 988.3,961.4 981.8,955.7 975.3,961.4 973.9,961.4 977.2,952.7 969.5,948.7 969.5,947.3 978.9,947.3"/>
<polygon points="1038.1,906.6 1039.7,906.6 1041.8,915.6 1050.3,915.6 1050.3,917.0 1043.5,921.0 1046.8,929.7 1045.4,929.7 1038.9,924.0 1032.4,929.7 1031.0,929.7 1034.3,921.0 1026.6,917.0 1026.6,915.6 1036.0,915.6"/>
<polygon points="1095.2,865.0 1096.8,865.0 1098.9,874.0 1107.4,874.0 1107.4,875.4 1100.6,879.4 1103.9,888.1 1102.5,888.1 1096.0,882.4 1089.5,888.1 1088.1,888.1 1091.4,879.4 1083.7,875.4 1083.7,874.0 1093.1,874.0"/>
<polygon points="1151.1,816.4 1152.7,816.4 1154.8,825.4 1163.3,825.4 1163.3,826.8 1156.5,830.8 1159.8,839.5 1158.4,839.5 1151.9,833.8 1145.4,839.5 1144.0,839.5 1147.3,830.8 1139.6,826.8 1139.6,825.4 1149.0,825.4"/>
<polygon points="1207.0,764.5 1208.6,764.5 1210.7,773.5 1219.2,773.5 1219.2,774.9 1212.4,778.9 1215.7,787.6 1214.3,787.6 1207.8,781.9 1201.3,787.6 1199.9,787.6 1203.2,778.9 1195.5,774.9 1195.5,773.5 1204.9,773.5"/>
<polygon points="1262.5,713.7 1264.1,713.7 1266.2,722.7 1274.7,722.7 1274.7,724.1 1267.9,728.1 1271.2,736.8 1269.8,736.8 1263.3,731.1 1256.8,736.8 1255.4,736.8 1258.7,728.1 1251.0,724.1 1251.0,722.7 1260.4,722.7"/>
<polygon points="1318.0,669.4 1319.6,669.4 1321.7,678.4 1330.2,678.4 1330.2,679.8 1323.4,683.8 1326.7,692.5 1325.3,692.5 1318.8,686.8 1312.3,692.5 1310.9,692.5 1314.2,683.8 1306.5,679.8 1306.5,678.4 1315.9,678.4"/>
<polygon points="1375.5,637.7 1377.0,637.7 1379.2,646.7 1387.7,646.7 1387.7,648.1 1380.8,652.1 1384.2,660.8 1382.8,660.8 1376.2,655.1 1369.8,660.8 1368.3,660.8 1371.7,652.1 1364.0,648.1 1364.0,646.7 1373.3,646.7"/>
<polygon points="1432.9,624.4 1434.5,624.4 1436.6,633.4 1445.1,633.4 1445.1,634.8 1438.3,638.8 1441.6,647.5 1440.2,647.5 1433.7,641.8 1427.2,647.5 1425.8,647.5 1429.1,638.8 1421.4,634.8 1421.4,633.4 1430.8,633.4"/>
</g>
</g>
<g stroke="#000" stroke-width="4" fill="none" shape-rendering="crispEdges">
<rect x="195" y="35" width="1350" height="1130"/>
<path d="M195 184 h22.6 M1545 184 h-22.6 M195 338 h22.6 M1545 338 h-22.6 M195 487 h22.6 M1545 487 h-22.6 M195 637 h22.6 M1545 637 h-22.6 M195 789 h22.6 M1545 789 h-22.6 M195 939 h22.6 M1545 939 h-22.6 M195 1092 h22.6 M1545 1092 h-22.6 M195 111 h11 M1545 111 h-11 M195 261 h11 M1545 261 h-11 M195 411 h11 M1545 411 h-11 M195 563 h11 M1545 563 h-11 M195 713 h11 M1545 713 h-11 M195 865 h11 M1545 865 h-11 M195 1015 h11 M1545 1015 h-11 M307 1165 v-22.6 M307 35 v22.6 M533 1165 v-22.6 M533 35 v22.6 M759 1165 v-22.6 M759 35 v22.6 M982 1165 v-22.6 M982 35 v22.6 M1208 1165 v-22.6 M1208 35 v22.6 M1434 1165 v-22.6 M1434 35 v22.6 M420.5 1165 v-11 M420.5 35 v11 M644 1165 v-11 M644 35 v11 M870 1165 v-11 M870 35 v11 M1096 1165 v-11 M1096 35 v11 M1319 1165 v-11 M1319 35 v11"/>
</g>
<g filter="url(#th)">
<text class="tk" x="172.3" y="47.0" text-anchor="end">0.8</text>
<text class="tk" x="172.3" y="199.6" text-anchor="end">0.6</text>
<text class="tk" x="172.3" y="349.5" text-anchor="end">0.4</text>
<text class="tk" x="172.3" y="503.0" text-anchor="end">0.2</text>
<text class="tk" x="172.3" y="652.0" text-anchor="end">0.0</text>
<text class="tk" x="172.3" y="802.3" text-anchor="end">-<tspan dx="-1.6">0.2</tspan></text>
<text class="tk" x="172.3" y="953.7" text-anchor="end">-<tspan dx="-1.6">0.4</tspan></text>
<text class="tk" x="172.3" y="1104.6" text-anchor="end">-<tspan dx="-1.6">0.6</tspan></text>
<text class="tk" x="308.0" y="1226.6" text-anchor="middle">0.0</text>
<text class="tk" x="533.0" y="1226.6" text-anchor="middle">0.2</text>
<text class="tk" x="758.5" y="1226.6" text-anchor="middle">0.4</text>
<text class="tk" x="983.5" y="1226.6" text-anchor="middle">0.6</text>
<text class="tk" x="1208.5" y="1226.6" text-anchor="middle">0.8</text>
<text class="tk" x="1435.3" y="1226.6" text-anchor="middle">1.0</text>
<text class="it" x="865.5" y="1300.5" text-anchor="middle" font-size="60" transform="translate(0 1300.5) scale(1 1.01) translate(0 -1300.5)">x</text>
<g transform="translate(57.6 577) rotate(-90) scale(1 1.07)"><text class="it" x="0" y="0" text-anchor="middle" font-size="68"><tspan>u</tspan><tspan font-style="normal">(</tspan><tspan>x,y</tspan><tspan font-style="normal">)</tspan></text></g>
<text class="lg ll" style="letter-spacing:-0.17px" x="233" y="86.7">exact solutions:</text>
<text class="lg ll" x="233" y="138.7">numerical solutions:</text>
<text class="lg" x="337" y="190.9">x=0.1</text>
<text class="lg" x="337" y="246.0">x=0.2</text>
<text class="lg" x="337" y="297.7">x=0.3</text>
<text class="lg" x="337" y="352.8">x=0.4</text>
<text class="lg" x="337" y="404.6">x=0.5</text>
<text class="lg" x="337" y="456.6">x=0.6</text>
<text class="lg" x="337" y="511.7">x=0.7</text>
<text class="lg" x="337" y="563.7">x=0.8</text>
<text class="lg" x="337" y="618.3">x=0.9</text>
</g>
<line x1="500" y1="71" x2="594" y2="71" stroke="#757575" stroke-width="4" stroke-linecap="round" shape-rendering="crispEdges"/>
<g shape-rendering="crispEdges" stroke="none">
<g fill="#000000"><rect x="270.0" y="169.0" width="20" height="22"/></g>
<g fill="#ff0000"><ellipse cx="280.0" cy="233.0" rx="10" ry="13"/></g>
<g fill="#00ff00"><polygon points="280.0,268.7 292.8,291.0 267.2,291.0"/></g>
<g fill="#0000ff"><polygon points="267.2,330.0 292.8,330.0 280.0,353.3"/></g>
<g fill="#00ffff"><polygon points="280.0,376.0 292.8,390.0 280.0,405.0 267.2,390.0"/></g>
<g fill="#ff00ff"><polygon points="265.0,444.2 287.0,430.9 287.0,457.5"/></g>
<g fill="#ffff00"><polygon points="296.0,496.5 273.0,483.5 273.0,509.5"/></g>
<g fill="#808000"><polygon points="280.0,538.3 290.0,544.5 290.0,555.3 280.0,561.7 270.0,555.3 270.0,544.5"/></g>
<g fill="#000080"><polygon points="280.2,590.2 281.8,590.2 283.9,599.2 292.4,599.2 292.4,600.6 285.6,604.6 288.9,613.3 287.5,613.3 281.0,607.6 274.5,613.3 273.1,613.3 276.4,604.6 268.7,600.6 268.7,599.2 278.1,599.2"/></g>
</g>
</svg>
</body></html>
